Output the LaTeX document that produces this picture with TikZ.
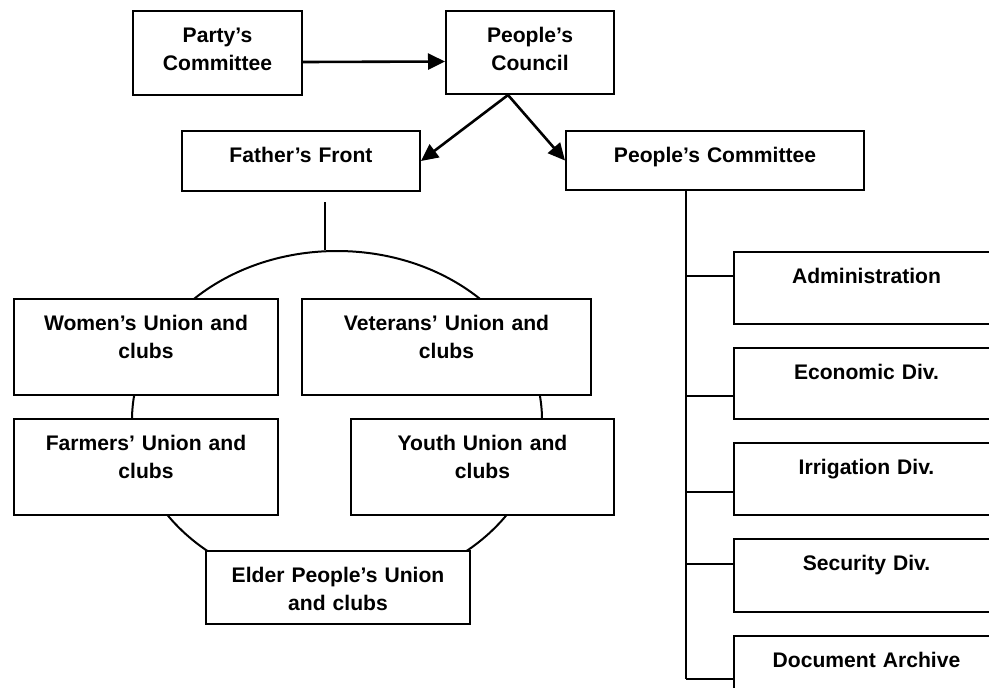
\documentclass[tikz,border=0pt]{standalone}
\usepackage{fontspec}
\setmainfont{Liberation Sans}
\usetikzlibrary{arrows.meta,shapes.geometric}

\tikzset{
  orgbox/.style 2 args={draw, line width=1pt, fill=white, anchor=north west, inner sep=0pt,
    text width=#1, align=center, text height=15.75pt, text depth=#2},
  link/.style={line width=1.3pt, -{Triangle[length=8.5pt,width=8pt]}},
  tie/.style={line width=1pt},
}

\begin{document}
\begin{tikzpicture}[x=0.5pt, y=-0.5pt, font=\fontsize{10.55pt}{14pt}\selectfont\bfseries]
    \useasboundingbox (0,0) rectangle (989,687);
    \clip (0,0) rectangle (989,687);

    % ring behind the unions
    \node[draw, ellipse, line width=1pt, inner sep=0pt, minimum width=205pt, minimum height=169pt] (ring) at (337,420) {};

    \node[orgbox={84.5pt}{26.25pt}] (party) at (132,10) {Party’s\\Committee};
    \node[orgbox={84pt}{25.75pt}] (council) at (445,10) {People’s\\Council};
    \node[orgbox={119pt}{14.25pt}] (father) at (181,130) {Father’s Front};
    \node[orgbox={149pt}{13.75pt}] (pcomm) at (565,130) {People’s Committee};

    \node[orgbox={132pt}{32.25pt}] (women) at (13,298) {Women’s Union and\\clubs};
    \node[orgbox={144.5pt}{32.25pt}] (veterans) at (301,298) {Veterans’ Union and\\clubs};
    \node[orgbox={132pt}{32.25pt}] (farmers) at (13,418) {Farmers’ Union and\\clubs};
    \node[orgbox={131.5pt}{32.25pt}] (youth) at (350,418) {Youth Union and\\clubs};
    \node[orgbox={132pt}{20.75pt}] (elder) at (205,550) {Elder People’s Union\\and clubs};

    \node[orgbox={132.5pt}{20.25pt}] (admin) at (733,251) {Administration};
    \node[orgbox={132.5pt}{19.75pt}] (econ) at (733,347) {Economic Div.};
    \node[orgbox={132.5pt}{20.25pt}] (irrig) at (733,442) {Irrigation Div.};
    \node[orgbox={132.5pt}{20.75pt}] (secur) at (733,538) {Security Div.};
    \node[orgbox={132.5pt}{20.25pt}] (docarch) at (733,635) {Document Archive};

    \draw[link] ([yshift=-4.5pt]party.east) -- ([yshift=-4.5pt]council.west);
    \draw[link] ([xshift=-11pt]council.south) -- (father.east);
    \draw[link] ([xshift=-11pt]council.south) -- (pcomm.west);

    \coordinate (stem) at (325,202);
    \draw[tie] (stem) -- (stem |- ring.north);

    % divisions hang off one trunk
    \coordinate (trunk) at ([xshift=-14.5pt]pcomm.south);
    \foreach \dept/\dy in {admin/6pt, econ/-6.25pt, irrig/-6.5pt, secur/5.75pt, docarch/-3.5pt}
      \coordinate (t-\dept) at ([yshift=\dy]\dept.west);
    \draw[tie] (trunk) -- (trunk |- t-docarch);
    \foreach \dept in {admin,econ,irrig,secur,docarch}
      \draw[tie] (trunk |- t-\dept) -- (t-\dept);
\end{tikzpicture}
\end{document}
